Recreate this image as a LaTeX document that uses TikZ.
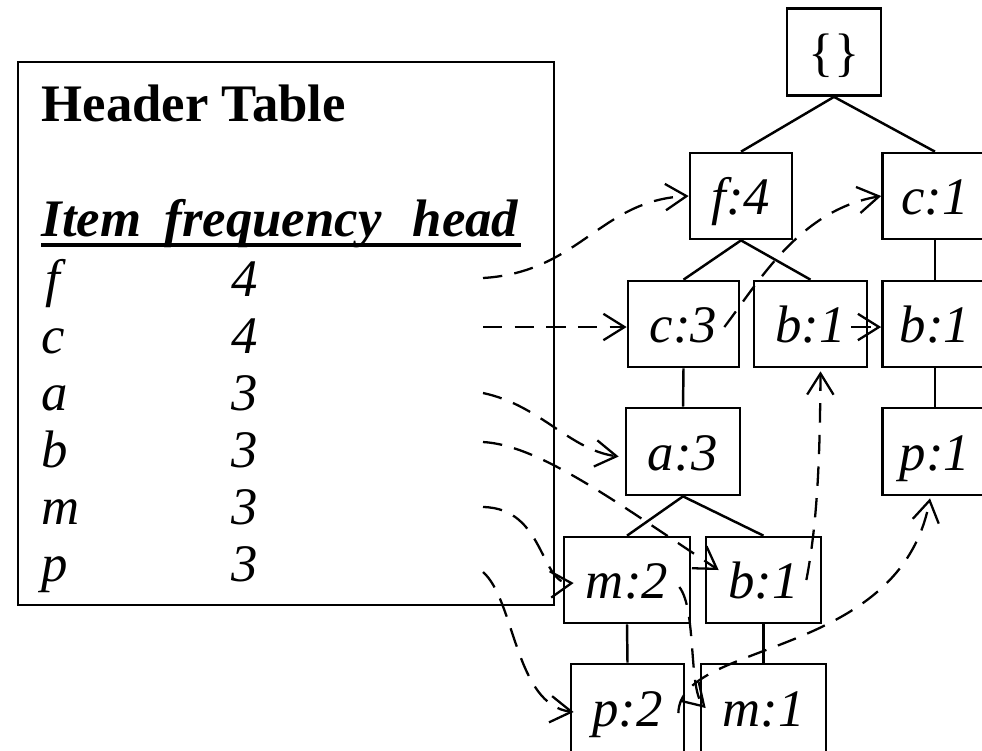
\documentclass[tikz,border=0pt]{standalone}
\usepackage{fontspec}
\setmainfont{Liberation Serif}[ItalicFont=Liberation Serif Italic, BoldFont=Liberation Serif Bold, BoldItalicFont=Liberation Serif Bold Italic]
\usetikzlibrary{arrows.meta,calc}

\begin{document}
\begin{tikzpicture}[x=0.01cm, y=-0.01cm,
    tnode/.style={draw, line width=0.75pt, inner sep=0pt, minimum height=0.86cm, text height=0.37cm, text depth=0cm, font=\fontsize{15}{18}\selectfont\itshape},
    edge/.style={line width=0.7pt},
    link/.style={dash pattern=on 5.5pt off 3.5pt, line width=0.65pt, -{Straight Barb[length=6pt, width=7.5pt]}},
    lbl/.style={anchor=base west, inner sep=0pt, font=\fontsize{15}{18}\selectfont\itshape}
]
\useasboundingbox (0,0) rectangle (982,750);
\clip (0,0) rectangle (982,750);

% header table
\draw[edge] (18,62) rectangle (554,605);
\node[lbl, font=\fontsize{15}{18}\selectfont\bfseries] (title) at (41,121) {Header Table};
\node[lbl, font=\fontsize{15}{18}\selectfont\bfseries\itshape] (citem) at (41,236) {Item};
\node[lbl, font=\fontsize{15}{18}\selectfont\bfseries\itshape] (cfreq) at (164,236) {frequency};
\node[lbl, font=\fontsize{15}{18}\selectfont\bfseries\itshape] (chead) at (412,236) {head};
\draw[line width=1.2pt] (41,245) -- (521,245);

\node[lbl] (if) at (45,296) {f};
\node[lbl] (ic) at (41,353) {c};
\node[lbl] (ia) at (41,410) {a};
\node[lbl] (ib) at (41,467) {b};
\node[lbl] (im) at (41,524) {m};
\node[lbl] (ip) at (41,581) {p};
\node[lbl, anchor=base] (nf) at (245,296) {4};
\node[lbl, anchor=base] (nc) at (245,353) {4};
\node[lbl, anchor=base] (na) at (245,410) {3};
\node[lbl, anchor=base] (nb) at (245,467) {3};
\node[lbl, anchor=base] (nm) at (245,524) {3};
\node[lbl, anchor=base] (np) at (245,581) {3};

\coordinate (hf) at (483,278);
\coordinate (hc) at (483,327);
\coordinate (ha) at (483,393);
\coordinate (hb) at (483,442);
\coordinate (hm) at (483,507);
\coordinate (hp) at (483,572);

% fp-tree
\node[tnode, minimum width=0.94cm, minimum height=0.87cm, font=\fontsize{15}{18}\selectfont] (root) at (834,52) {\{\}};
\node[tnode, minimum width=1.02cm] (f4) at (741,196) {f:4};
\node[tnode, minimum width=1.05cm] (c1) at (935,196) {c:1};
\node[tnode, minimum width=1.11cm] (c3) at (683.5,324) {c:3};
\node[tnode, minimum width=1.13cm] (b1m) at (810.5,324) {b:1};
\node[tnode, minimum width=1.05cm] (b1r) at (935,324) {b:1};
\node[tnode, minimum width=1.14cm, minimum height=0.87cm] (a3) at (683,451.5) {a:3};
\node[tnode, minimum width=1.05cm, minimum height=0.87cm] (p1) at (935,451.5) {p:1};
\node[tnode, minimum width=1.26cm] (m2) at (627,580) {m:2};
\node[tnode, minimum width=1.15cm] (b1l) at (763.5,580) {b:1};
\node[tnode, minimum width=1.13cm, minimum height=0.88cm] (p2) at (627.5,708) {p:2};
\node[tnode, minimum width=1.25cm, minimum height=0.88cm] (m1) at (763.5,708) {m:1};

\draw[edge] (root.south) -- (f4.north);
\draw[edge] (root.south) -- (c1.north);
\draw[edge] (f4.south) -- (c3.north);
\draw[edge] (f4.south) -- (b1m.north);
\draw[edge] (c1.south) -- (b1r.north);
\draw[edge] (c3.south) -- (a3.north);
\draw[edge] (b1r.south) -- (p1.north);
\draw[edge] (a3.south) -- (m2.north);
\draw[edge] (a3.south) -- (b1l.north);
\draw[edge] (m2.south) -- (p2.north);
\draw[edge] (b1l.south) -- (m1.north);

% node-links
\draw[link] (hf) .. controls (580,272) and (600,200) .. (f4.west);
\draw[link] (hc) -- (hc -| c3.west);
\draw[link] ($(c3.east)+(-16,3)$) .. controls (760,280) and (800,210) .. (c1.west);
\draw[link] ($(b1m.east)+(-17,3)$) -- ($(b1r.west)+(0,3)$);
\draw[link] (ha) .. controls (540,405) and (570,450) .. ($(a3.west)+(-6,5)$);
\draw[link] (hb) .. controls (540,445) and (620,505) .. ($(b1l.west)+(14,-10)$);
\draw[link] (hm) .. controls (545,508) and (540,585) .. ($(m2.west)+(11,3)$);
\draw[link] (hp) .. controls (515,600) and (515,705) .. ($(p2.west)+(4,4)$);
\draw[link] ($(b1l.east)+(-16,0)$) .. controls (818,520) and (820,450) .. ($(b1m.south)+(10,3)$);
\draw[link] ($(m2.east)+(-12,7)$) .. controls (697,610) and (688,690) .. ($(m1.west)+(6,0)$);
\draw[link] ($(p2.east)+(-7,5)$) .. controls (680,640) and (900,660) .. ($(p1.south)+(-5,2)$);
\end{tikzpicture}
\end{document}
